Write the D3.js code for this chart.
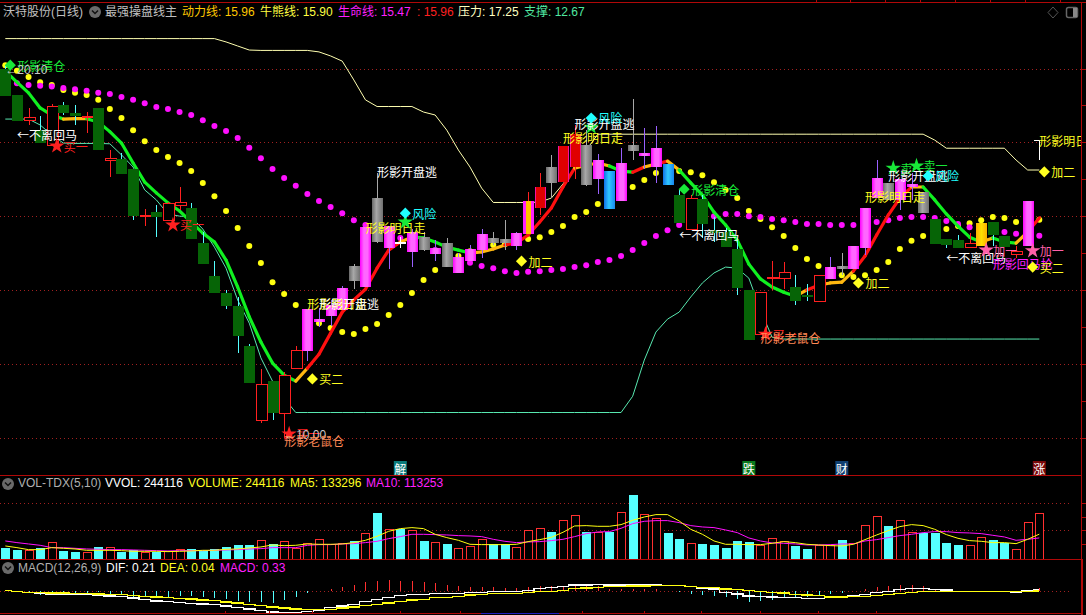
<!DOCTYPE html>
<html><head><meta charset="utf-8">
<style>
html,body{margin:0;padding:0;background:#000;overflow:hidden}
text{font-family:"Liberation Sans","Noto Sans CJK SC",sans-serif;font-size:12px;dominant-baseline:central}
.cjk{font-family:"Noto Sans CJK SC",sans-serif}
</style>
<script src="https://cdn.jsdelivr.net/npm/d3@7"></script>
</head><body>
<svg id="c" width="1086" height="615" style="display:block;background:#000"></svg>
<script>
const open_=[19.99,19.28,18.59,18.33,17.91,19.01,18.79,18.66,18.93,17.5,17.55,17.28,16.0,16.11,15.88,16.28,16.22,15.27,14.38,13.92,13.56,12.48,10.47,11.53,10.64,11.86,12.34,13.13,13.29,13.46,14.24,14.09,15.3,15.14,15.25,15.03,15.08,14.97,14.62,14.46,14.78,15.08,15.27,15.27,15.19,15.52,16.22,16.9,16.92,17.33,16.84,17.0,16.19,16.41,17.77,17.63,17.33,16.84,16.57,15.65,16.46,15.62,15.57,15.11,14.0,12.78,14.32,14.32,14.08,13.85,13.7,14.3,14.57,14.57,15.14,16.49,16.44,16.44,16.79,16.08,15.92,15.38,15.35,15.14,15.19,15.84,15.46,14.97,15.2,18.06];
const close_=[19.25,18.58,18.67,17.98,18.97,18.79,18.71,18.69,17.79,17.57,17.14,16.0,16.03,15.98,16.33,16.38,15.38,14.7,13.92,13.56,12.75,11.48,11.45,10.66,11.69,12.37,13.48,13.21,13.59,14.05,14.65,15.71,16.49,15.73,15.3,15.58,15.43,15.15,15.27,14.89,15.11,15.51,15.42,15.38,15.54,16.41,16.79,17.33,17.9,18.22,17.93,17.52,17.22,17.44,17.93,17.71,17.85,17.41,15.81,16.49,15.79,15.54,15.17,14.05,12.64,13.94,14.35,14.46,13.7,13.82,14.38,14.62,14.65,15.19,16.22,17.03,16.9,17.0,16.87,16.65,15.24,15.22,15.14,15.27,15.81,15.49,15.16,15.03,16.41,18.06];
const high_=[20.10,19.28,18.94,18.71,19.04,19.09,19.01,18.83,18.93,17.79,17.72,17.28,16.19,16.3,16.39,16.8,16.36,15.57,14.79,14.0,13.82,12.53,11.86,11.53,11.77,12.48,13.48,13.51,13.73,14.11,14.7,15.71,17.17,15.73,15.43,15.65,15.57,15.35,15.41,15.0,15.22,15.65,15.57,15.89,15.57,16.66,17.17,17.66,17.9,18.47,18.33,17.68,17.22,17.85,19.17,18.39,18.44,17.41,16.71,16.57,16.57,15.98,15.68,15.35,14.0,13.94,14.78,14.76,14.4,14.16,14.4,14.89,15.0,15.19,16.22,17.52,16.9,17.0,17.17,16.65,15.92,15.38,15.49,15.54,15.81,15.84,15.46,15.19,16.41,18.06];
const low_=[19.25,18.58,18.47,17.98,17.91,18.74,18.47,18.25,17.79,17.07,17.14,15.89,15.73,15.43,15.88,16.17,15.38,14.7,13.92,13.48,12.3,11.48,10.39,10.47,10.0,11.86,12.07,12.99,13.02,13.46,14.03,14.09,15.27,14.57,15.14,14.63,15.05,14.79,14.62,14.46,14.78,14.87,15.22,15.08,15.08,15.52,16.03,16.49,16.92,17.01,16.82,16.6,16.19,16.41,17.52,17.28,16.9,16.84,15.81,15.65,15.41,15.31,15.17,13.86,12.64,12.78,14.0,14.02,13.59,13.7,13.7,14.3,14.4,14.57,14.95,16.49,16.44,16.17,16.44,16.08,15.24,15.14,15.14,15.14,15.19,15.19,15.16,14.87,15.2,17.52];
const kind_=["d","d","u","d","u","d","d","u","d","u","d","d","u","d","u","u","d","d","d","d","d","d","u","d","u","u","m","m","m","m","k","m","k","m","w","m","k","m","k","m","m","m","k","k","m","x","r","k","r","r","k","m","b","m","k","m","m","b","d","u","d","d","d","d","d","u","u","u","d","d","u","m","k","m","m","m","k","m","m","k","d","d","d","u","g","d","d","u","m","w"];
const trendLine=[19.93,19.63,19.34,18.93,18.74,18.63,18.64,18.64,18.55,18.29,17.98,17.44,16.92,16.63,16.36,16.14,15.84,15.54,15.3,14.81,14.08,13.27,12.59,12.02,11.69,11.53,11.88,12.26,12.83,13.4,13.73,14.02,14.59,15.08,15.3,15.43,15.41,15.3,15.16,15.08,15.0,15.03,15.11,15.22,15.27,15.49,15.84,16.22,16.79,17.3,17.38,17.44,17.36,17.22,17.19,17.33,17.41,17.49,17.25,16.9,16.57,16.11,15.76,15.35,14.7,14.3,14.08,13.94,13.83,14.0,14.13,14.19,14.21,14.51,14.92,15.49,16.03,16.49,16.79,16.79,16.44,16.06,15.73,15.43,15.3,15.41,15.3,15.27,15.57,15.95];
const trendState=["g","g","g","g","g","g","o","o","g","g","g","g","g","g","g","g","g","g","g","g","g","g","g","g","g","g","o","r","r","r","r","r","r","r","r","o","g","g","g","g","g","o","o","o","r","r","r","r","r","r","o","o","o","g","g","r","o","r","o","g","g","g","g","g","g","g","g","g","g","o","r","o","o","o","r","r","r","r","r","o","g","g","g","g","g","o","g","g","o","r"];
const pressure=[20.81,20.81,20.81,20.81,20.81,20.81,20.81,20.81,20.81,20.81,20.81,20.81,20.81,20.81,20.81,20.81,20.81,20.81,20.81,20.72,20.61,20.5,20.49,20.49,20.49,20.49,20.49,20.45,20.34,20.2,19.69,19.15,18.97,18.97,18.97,18.97,18.82,18.74,18.33,17.79,17.33,16.76,16.37,16.37,16.37,16.37,16.38,16.49,16.87,17.3,17.79,18.22,18.22,18.22,18.22,18.22,18.22,18.22,18.22,18.22,18.22,18.22,18.22,18.22,18.22,18.22,18.22,18.22,18.22,18.22,18.22,18.22,18.22,18.22,18.22,18.22,18.22,18.22,18.22,18.22,18.06,17.84,17.84,17.84,17.84,17.84,17.84,17.52,17.25,17.25];
const support=[18.63,18.63,18.63,18.47,18.2,17.98,17.97,17.97,17.97,17.96,17.66,17.33,16.71,16.44,16.06,16.0,15.98,15.65,15.16,14.59,13.73,13.1,12.16,11.53,11.07,10.68,10.68,10.68,10.68,10.68,10.68,10.68,10.68,10.68,10.68,10.68,10.68,10.68,10.68,10.68,10.68,10.68,10.68,10.68,10.68,10.68,10.68,10.68,10.68,10.68,10.68,10.68,10.68,10.68,11.12,12.1,12.86,13.21,13.4,13.81,14.19,14.46,14.62,14.59,14.32,13.46,12.72,12.67,12.67,12.67,12.67,12.67,12.67,12.67,12.67,12.67,12.67,12.67,12.67,12.67,12.67,12.67,12.67,12.67,12.67,12.67,12.67,12.67,12.67,12.67];
const lifeDots=[null,19.6,19.55,19.53,19.51,19.47,19.44,19.4,19.34,19.31,19.23,19.15,19.06,18.96,18.9,18.82,18.74,18.6,18.44,18.31,18.12,17.85,17.57,17.28,17.03,16.82,16.6,16.41,16.25,16.08,15.89,15.76,15.57,15.49,15.41,15.35,15.24,15.08,14.95,14.81,14.74,14.65,14.59,14.51,14.46,14.49,14.51,14.54,14.57,14.62,14.67,14.76,14.81,14.92,15.08,15.27,15.46,15.62,15.76,15.87,15.95,16.0,16.06,16.06,16.0,15.98,15.92,15.89,15.84,15.79,15.79,15.76,15.76,15.76,15.79,15.84,15.89,15.95,15.98,15.98,15.95,15.87,15.79,15.7,15.68,15.62,15.57,15.52,15.49,15.47];
const bullDots=[20.09,19.94,19.77,19.63,19.55,19.42,19.34,19.28,19.15,18.9,18.66,18.33,18.03,17.79,17.6,17.44,17.22,16.9,16.54,16.14,15.68,15.19,14.73,14.21,13.89,13.59,13.29,13.1,12.97,12.86,12.81,12.94,13.08,13.32,13.59,13.92,14.27,14.54,14.76,14.92,15.05,15.16,15.22,15.24,15.3,15.38,15.43,15.57,15.73,15.98,16.11,16.33,16.49,16.63,16.79,16.98,17.17,17.25,17.22,17.19,17.11,16.92,16.71,16.49,16.14,15.92,15.7,15.46,15.14,14.84,14.65,14.51,14.4,14.35,14.4,14.54,14.76,15.11,15.33,15.46,15.57,15.65,15.73,15.81,15.89,15.98,15.95,15.84,15.84,15.9];
const volume=[58300,47700,45900,58300,88300,42400,37100,35300,63600,61800,37100,51200,35300,37100,38900,51200,53000,44200,53000,63600,74200,74200,98900,79500,93600,56500,83000,104000,76000,83000,95400,136000,243900,157300,162600,152000,95400,88400,79500,56500,67100,104000,79500,79500,61800,152000,162600,143100,205000,231500,146700,141400,143100,247400,339300,236800,215600,137800,106000,83000,79500,74200,58300,95400,90100,72400,109600,93600,68900,53000,72400,72400,100700,83000,178500,226200,174900,205000,141400,137800,137800,84800,74200,72400,114900,100700,84800,51200,194400,244116];
const volUp=[0,0,1,0,1,0,0,1,0,1,0,0,1,0,1,1,0,0,0,0,0,0,1,0,1,1,1,1,1,1,0,1,0,1,0,1,0,1,0,1,1,1,0,0,1,1,1,0,1,1,0,1,0,1,0,1,1,0,0,1,0,0,0,0,0,1,1,1,0,0,1,1,0,1,1,1,0,1,1,0,0,0,0,1,1,0,0,1,1,1];
const ma5=[70700,61800,51200,51200,61800,58300,54800,47700,47700,47700,45900,42400,42400,42400,40600,42400,44200,47700,47700,53000,54800,60100,65400,76000,72400,74200,81300,79500,79500,81300,88400,100700,121900,148400,162600,167900,162600,132500,114900,100700,79500,77800,77800,77800,79500,93700,104300,116600,143100,176700,178500,174900,174900,183800,206700,224400,236800,236800,203200,159000,132500,97200,79500,79500,77800,77800,84800,93700,88400,79500,76000,72400,70700,79500,104300,129000,152000,173200,183800,178500,159000,130800,111300,99000,95400,88400,88400,83000,106000,133296];
const ma10=[97200,88400,81300,74200,61800,61800,58300,54800,53000,51200,51200,49500,47700,45900,44200,45900,45900,45900,47700,49500,51200,54800,56500,61800,61800,61800,74200,77700,77700,81300,83000,88400,95400,109600,120200,132500,132500,130800,129000,125500,123700,120200,106000,95400,88400,91900,93700,99000,106000,120200,136100,144900,146700,164300,189100,201400,205000,205000,194400,178500,171400,167900,155500,141400,113100,97200,86600,84800,81300,76000,76000,77700,81300,81300,97200,104300,114900,125500,132500,141400,146700,146700,141400,139600,136100,127200,118400,100700,106000,113253];
const dif=[0.07,-0.04,-0.14,-0.21,-0.28,-0.28,-0.28,-0.28,-0.39,-0.49,-0.56,-0.7,-0.84,-1.02,-1.05,-1.16,-1.26,-1.33,-1.4,-1.54,-1.72,-1.86,-2.04,-2.18,-2.21,-2.21,-2.14,-2.0,-1.68,-1.54,-1.4,-1.09,-0.84,-0.67,-0.42,-0.35,-0.35,-0.25,-0.25,-0.25,-0.14,-0.14,0,0,0,0.11,0.28,0.42,0.53,0.67,0.67,0.7,0.67,0.67,0.7,0.7,0.7,0.63,0.63,0.49,0.32,0.25,-0.11,-0.28,-0.49,-0.53,-0.6,-0.63,-0.63,-0.74,-0.74,-0.63,-0.56,-0.49,-0.32,-0.11,0,0.21,0.28,0.28,0.21,0.14,0,0,0,0,0,-0.11,0.04,0.21];
const dea=[0.11,-0.04,-0.11,-0.11,-0.18,-0.18,-0.21,-0.25,-0.28,-0.32,-0.35,-0.42,-0.53,-0.6,-0.67,-0.74,-0.81,-0.91,-0.98,-1.12,-1.23,-1.37,-1.51,-1.65,-1.76,-1.86,-1.9,-1.93,-1.9,-1.76,-1.65,-1.51,-1.37,-1.23,-1.05,-0.91,-0.84,-0.63,-0.63,-0.53,-0.39,-0.32,-0.25,-0.21,-0.21,-0.14,-0.04,0,0.11,0.28,0.35,0.42,0.49,0.53,0.56,0.56,0.63,0.63,0.6,0.53,0.42,0.39,0.25,0.18,0.07,0,-0.11,-0.18,-0.32,-0.39,-0.42,-0.6,-0.6,-0.56,-0.53,-0.42,-0.32,-0.25,-0.14,-0.04,0,0,0,0,0,0,0,0,0.02,0.04];
const hist=[0.04,0,-0.11,-0.42,-0.11,-0.21,-0.28,-0.35,-0.07,-0.28,-0.42,-0.63,-0.63,-0.63,-0.56,-0.49,-0.53,-0.63,-0.7,-0.84,-1.02,-1.12,-1.12,-1.19,-0.91,-0.56,-0.14,0,0.25,0.46,0.67,0.98,1.09,1.19,1.09,1.09,0.98,0.88,0.67,0.56,0.46,0.46,0.46,0.35,0.35,0.46,0.56,0.56,0.6,0.77,0.6,0.56,0.21,0.21,0.21,0.21,0.25,0,-0.11,-0.28,-0.42,-0.49,-0.6,-0.81,-1.09,-1.02,-0.91,-0.7,-0.63,-0.56,-0.46,-0.28,-0.18,0,0.25,0.46,0.56,0.67,0.67,0.56,0.25,0.14,0,0,0,0,0,-0.11,0,0.33];
const priceGrid=[20,18,16,14,12,10];
const priceTicks=[20,19,18,17,16,15,14,13,12,11,10];
const volGrid=[153000,296000];
const volTicks=[296000,222000,153000,79000];

const notes=[
[0,20.09,"形影清仓","#18e838","diamond"],
[0,19.96,"←20.10","#c8c8c8",null],
[1,18.22,"←不离回马","#ffffff",null],
[4,17.9,"买一","#ff2020","star"],
[14,15.76,"买一","#ff2020","star"],
[26,11.59,"买二","#ffff20","diamond"],
[26,13.62,"形影明日走","#ffff20",null],
[27,13.62,"形影开盘逃","#ffffff",null],
[24,10.1,"买一","#ff2020","star"],
[24,10.07,"←10.00","#c8c8c8",null],
[24,9.93,"形影老鼠仓","#ff8855",null],
[32,17.22,"形影开盘逃","#ffffff",null],
[31,15.68,"形影明日走","#ffff20",null],
[34,15.84,"","#18e838","star"],
[34,16.08,"风险","#20ffff","diamond"],
[44,14.78,"加二","#ffff20","diamond"],
[50,18.41,"","#18e838","star"],
[49,18.5,"形影开盘逃","#ffffff",null],
[50,18.66,"风险","#20ffff","diamond"],
[48,18.12,"形影明日走","#ffff20",null],
[58,16.73,"形影清仓","#18e838","diamond"],
[58,15.51,"←不离回马","#ffffff",null],
[65,12.8,"买一","#ff2020","star"],
[65,12.7,"形影老鼠仓","#ff8855",null],
[73,14.19,"加二","#ffff20","diamond"],
[74,16.52,"形影明日走","#ffff20",null],
[76,17.3,"卖一","#18e838","star"],
[78,17.36,"卖一","#18e838","star"],
[76,17.11,"形影开盘逃","#ffffff",null],
[79,17.09,"风险","#20ffff","diamond"],
[81,14.87,"←不离回马","#ffffff",null],
[84,15.08,"加一","#ff60a8","star"],
[88,15.06,"加一","#ff60a8","star"],
[85,14.73,"形影回马抢","#ff20ff",null],
[88,14.62,"买二","#ffff20","diamond"],
[89,18.06,"形影明日走","#ffff20",null],
[89,17.2,"加二","#ffff20","diamond"]
];
const tags=[[34,"解","#0a7a7a"],[64,"跌","#0a7a1e"],[72,"财","#0f3f70"],[89,"涨","#7a0a0a"]];
const header=[["沃特股份(日线)",3,"#c0c0c0"],["最强操盘线主",105,"#c0c0c0"],["动力线: 15.96",182,"#ffc800"],["牛熊线: 15.90",260,"#ffff40"],["生命线: 15.47",338,"#ff20ff"],[": 15.96",417,"#ff2020"],["压力: 17.25",458,"#ffffc0"],["支撑: 12.67",524,"#50e8a0"]];
const volHeader=[["VOL-TDX(5,10)",18,"#b0b0b0"],["VVOL: 244116",105,"#ffffff"],["VOLUME: 244116",188,"#ffff20"],["MA5: 133296",290,"#ffff20"],["MA10: 113253",366,"#ff20ff"]];
const macdHeader=[["MACD(12,26,9)",18,"#b0b0b0"],["DIF: 0.21",106,"#ffffff"],["DEA: 0.04",160,"#ffff20"],["MACD: 0.33",220,"#ff20ff"]];
const timeTicks=[225,269,312,400,460,582,644,701,760,818,876];
const topTicks=[816,850,885,920,955,990,1025,1060];

const svg=d3.select("#c");
const defs=svg.append("defs");
function grad(id,stops){const g=defs.append("linearGradient").attr("id",id);
  stops.forEach(s=>g.append("stop").attr("offset",s[0]).attr("stop-color",s[1]));}
grad("gm",[[0,"#ff00ff"],[.35,"#ff66ff"],[.7,"#ff66ff"],[1,"#ff00ff"]]);
grad("gk",[[0,"#6a6a6a"],[.4,"#a8a8a8"],[1,"#707070"]]);
grad("gb",[[0,"#1070e8"],[.45,"#30c8ff"],[1,"#1888f0"]]);
grad("gg",[[0,"#ffb000"],[.5,"#ffe000"],[1,"#ffb000"]]);
grad("gr",[[0,"#ff20ff"],[.12,"#e00000"],[.88,"#e00000"],[1,"#ff20ff"]]);
grad("gx",[[0,"#ff20ff"],[.25,"#ff20ff"],[.3,"#ffc000"],[.7,"#ffc000"],[.75,"#ff20ff"],[1,"#ff20ff"]]);
defs.append("clipPath").attr("id","pane").append("rect").attr("x",0).attr("y",3).attr("width",1081).attr("height",471);

const x=d3.scaleLinear().domain([0,89]).range([5.3,1039.3]);
const y=d3.scaleLinear().domain([10,20]).range([437.6,68.5]);
const yV=d3.scaleLinear().domain([0,300000]).range([559.3,502.7]);
const yM=d3.scaleLinear().domain([-2,1]).range([610.3,581.8]);
const idx=d3.range(open_.length);
const red="#b00808";

function dotted(v,scale,x2){svg.append("line").attr("x1",0).attr("x2",x2).attr("y1",Math.round(scale(v))+.5).attr("y2",Math.round(scale(v))+.5)
  .attr("stroke","#a02020").attr("stroke-dasharray","1 3");}
priceGrid.forEach(v=>dotted(v,y,1081));
volGrid.forEach(v=>dotted(v,yV,1070));
dotted(0,yM,1070);

const main=svg.append("g").attr("clip-path","url(#pane)");
// dots
main.append("g").selectAll("circle").data(idx.filter(i=>bullDots[i]!=null)).join("circle")
  .attr("cx",i=>x(i)).attr("cy",i=>y(bullDots[i])).attr("r",3).attr("fill","#ffff10");
main.append("g").selectAll("circle").data(idx.filter(i=>lifeDots[i]!=null)).join("circle")
  .attr("cx",i=>x(i)).attr("cy",i=>y(lifeDots[i])).attr("r",3).attr("fill","#ff10ff");
// thin lines
const line=d3.line().x(i=>x(i));
main.append("path").attr("d",line.y(i=>y(pressure[i]))(idx)).attr("fill","none").attr("stroke","#ffffb0").attr("stroke-width",1);
main.append("path").attr("d",line.y(i=>y(support[i]))(idx)).attr("fill","none").attr("stroke","#58e8b0").attr("stroke-width",1);
// thick segmented line
const stateColor={g:"#10f020",o:"#ffb810",r:"#ff1010"};
main.append("g").selectAll("path").data(idx.slice(1)).join("path")
  .attr("d",i=>line.y(j=>y(trendLine[j]))([i-1,i])).attr("fill","none").attr("stroke-width",3.2).attr("stroke-linecap","round")
  .attr("stroke",i=>stateColor[trendState[i]]);
// candles
const style={d:["#55ffff","#066406",null],u:["#ff2020","#000","#ff2020"],m:["#9a60ff","url(#gm)",null],k:["#a8a8a8","url(#gk)",null],
  b:["#30c8ff","url(#gb)",null],r:["#ff2020","url(#gr)",null],g:["#ffc000","url(#gg)",null],x:["#ff2020","url(#gx)",null],w:["#ffffff","#ffffff",null]};
const cg=main.append("g").selectAll("g").data(idx).join("g").attr("shape-rendering","crispEdges");
cg.append("line").attr("x1",i=>Math.round(x(i))+.5).attr("x2",i=>Math.round(x(i))+.5)
  .attr("y1",i=>y(high_[i])).attr("y2",i=>y(low_[i])).attr("stroke",i=>style[kind_[i]][0]);
cg.append("rect")
  .attr("x",i=>Math.round(x(i))-5).attr("width",11)
  .attr("y",i=>Math.min(y(open_[i]),y(close_[i]))).attr("height",i=>Math.max(1,Math.abs(y(open_[i])-y(close_[i]))))
  .attr("fill",i=>style[kind_[i]][1]).attr("stroke",i=>style[kind_[i]][2]||"none")
  .attr("display",i=>i===89?"none":null);
cg.filter(i=>i===89).append("line").attr("x1",i=>x(i)-5).attr("x2",i=>x(i)).attr("y1",i=>y(open_[i])).attr("y2",i=>y(open_[i])).attr("stroke","#fff");
// annotations
const star=d3.symbol().type(d3.symbolStar).size(75)();
const dia=d3.symbol().type(d3.symbolSquare).size(62)();
const ng=main.append("g");
notes.forEach(n=>{
  const px=x(n[0]),py=y(n[1]);
  if(n[4]){ng.append("path").attr("d",n[4]==="star"?star:dia)
    .attr("transform",`translate(${px+5},${py})`+(n[4]==="star"?"":" rotate(45)")).attr("fill",n[3]);}
  if(n[2]){ng.append("text").attr("class",n[2].includes(".")?null:"cjk").attr("x",n[4]?px+12:px).attr("y",py).attr("fill",n[3]).text(n[2]);}
});
// event tags
tags.forEach(t=>{
  svg.append("rect").attr("x",x(t[0])-6.5).attr("y",461).attr("width",13).attr("height",14).attr("fill",t[2]);
  svg.append("text").attr("class","cjk").attr("x",x(t[0])).attr("y",468).attr("text-anchor","middle").attr("fill","#fff").text(t[1]);
});
// volume pane
const vg=svg.append("g").attr("shape-rendering","crispEdges");
vg.selectAll("rect").data(idx).join("rect")
  .attr("x",i=>Math.round(x(i))-4+(volUp[i]?.5:0)).attr("width",i=>volUp[i]?8:9)
  .attr("y",i=>yV(volume[i])).attr("height",i=>yV(0)-yV(volume[i]))
  .attr("fill",i=>volUp[i]?"#000":"#55ffff").attr("stroke",i=>volUp[i]?"#ff3030":"none");
svg.append("path").attr("d",line.y(i=>yV(ma10[i]))(idx)).attr("fill","none").attr("stroke","#ff10ff");
svg.append("path").attr("d",line.y(i=>yV(ma5[i]))(idx)).attr("fill","none").attr("stroke","#ffff10");
// macd pane
svg.append("g").attr("shape-rendering","crispEdges").selectAll("line").data(idx.filter(i=>hist[i]!==0)).join("line")
  .attr("x1",i=>Math.round(x(i))+.5).attr("x2",i=>Math.round(x(i))+.5).attr("y1",yM(0)).attr("y2",i=>yM(hist[i]))
  .attr("stroke",i=>hist[i]>0?"#ff3030":"#55ffff");
const sl=d3.line().x(i=>x(i)).curve(d3.curveStep);
svg.append("path").attr("d",sl.y(i=>yM(dif[i]))(idx)).attr("fill","none").attr("stroke","#fff").attr("stroke-width",1.2).attr("shape-rendering","crispEdges");
svg.append("path").attr("d",sl.y(i=>yM(dea[i]))(idx)).attr("fill","none").attr("stroke","#ffff10").attr("stroke-width",1.2).attr("shape-rendering","crispEdges");
// frame
const fr=svg.append("g").attr("stroke",red).attr("shape-rendering","crispEdges");
[[0,1086,2],[0,1081,475],[0,1081,559],[0,1081,613]].forEach(l=>fr.append("line").attr("x1",l[0]).attr("x2",l[1]).attr("y1",l[2]+.5).attr("y2",l[2]+.5));
svg.append("line").attr("x1",481).attr("x2",559).attr("y1",613.5).attr("y2",613.5).attr("stroke","#2020c0");
fr.append("line").attr("x1",1081.5).attr("x2",1081.5).attr("y1",2).attr("y2",615);
fr.append("line").attr("x1",1082.5).attr("x2",1082.5).attr("y1",559).attr("y2",615);
timeTicks.forEach(t=>fr.append("line").attr("x1",t+.5).attr("x2",t+.5).attr("y1",611).attr("y2",613));
topTicks.forEach(t=>fr.append("line").attr("x1",t+.5).attr("x2",t+.5).attr("y1",0).attr("y2",2));
// right axes through d3-axis
function axis(scale,vals){const g=svg.append("g").attr("transform","translate(1081,0)")
  .call(d3.axisRight(scale).tickValues(vals).tickSize(5).tickFormat(""));
  g.select(".domain").remove();g.selectAll("line").attr("stroke",red);g.attr("shape-rendering","crispEdges");}
axis(y,priceTicks);axis(yV,volTicks);
// header rows
function hdr(list,py){list.forEach(h=>svg.append("text").attr("class",/[^\x00-\x7f]/.test(h[0])?null:null).attr("x",h[1]).attr("y",py).attr("fill",h[2]).text(h[0]));}
hdr(header,12);hdr(volHeader,483);hdr(macdHeader,567.5);
function chev(cx,cy){svg.append("circle").attr("cx",cx).attr("cy",cy).attr("r",6).attr("fill","#6a6a6a");
  svg.append("path").attr("d",`M${cx-3},${cy-1.5}L${cx},${cy+1.5}L${cx+3},${cy-1.5}`).attr("fill","none").attr("stroke","#111").attr("stroke-width",1.5);}
chev(95,12);chev(8,484);chev(8,568);
svg.append("path").attr("d","M1053,7L1058,12.5L1053,18L1048,12.5Z").attr("fill","none").attr("stroke","#555");
svg.append("rect").attr("x",1066.5).attr("y",7.5).attr("width",11).attr("height",10).attr("rx",2).attr("fill","none").attr("stroke","#666").attr("stroke-width",1.5);
svg.append("rect").attr("x",1073).attr("y",8).attr("width",4).attr("height",9).attr("fill","#888");
</script>
</body></html>
